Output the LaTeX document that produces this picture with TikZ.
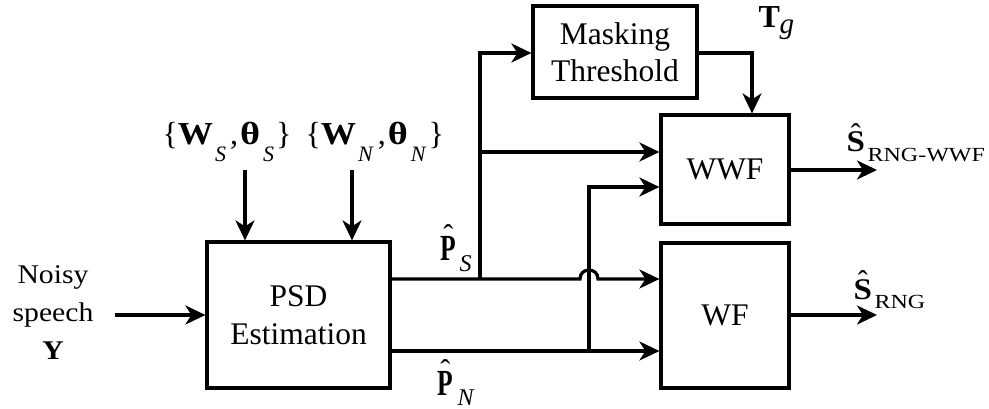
\documentclass[tikz,border=0pt]{standalone}
\usepackage{graphicx}
\usepackage{fontspec}
\setmainfont{Liberation Serif}
\usetikzlibrary{arrows.meta}
% lowered italic subscript: #1 = drop, #2 = size, #3 = text
\newcommand{\lowsub}[3]{\raisebox{-#1}{\fontsize{#2}{#2}\selectfont\textit{#3}}}
\newcommand{\wtheta}[1]{\{\scalebox{1.1}[1]{\textbf{W}}\kern2pt\lowsub{17pt}{22}{#1}\kern4pt,\kern2pt\scalebox{1.2}[1]{\textbf{θ}}\kern3pt\lowsub{17pt}{22}{#1}\kern2pt\}}
\begin{document}
\begin{tikzpicture}[x=1pt,y=-1pt,
  line width=3.2pt,
  font=\fontsize{31.5}{37.5}\selectfont,
  box/.style={draw, line width=3.2pt, inner sep=0pt, align=center},
  lbl/.style={inner sep=0pt, align=center},
  mlbl/.style={inner sep=0pt, anchor=base west, font=\fontsize{32}{32}\selectfont},
  hatlbl/.style={inner sep=0pt, anchor=north, font=\fontsize{30}{30}\selectfont},
  sublbl/.style={inner sep=0pt, anchor=base west, font=\fontsize{24}{24}\selectfont\itshape},
  rsub/.style={inner sep=0pt, anchor=base west, font=\fontsize{20}{20}\selectfont},
  arr/.style={-{Stealth[length=20pt,width=19pt,inset=6pt]}}]
\useasboundingbox (0,0) rectangle (989,409);
% blocks
\node[box, minimum width=183pt, minimum height=146pt] (psd) at (298.5,315) {PSD\\Estimation};
\node[box, minimum width=164pt, minimum height=92pt] (mask) at (615,52) {Masking\\Threshold};
\node[box, minimum width=128pt, minimum height=109pt] (wwf) at (725,169.5) {WWF};
\node[box, minimum width=128pt, minimum height=145pt] (wf) at (725,315.5) {WF};
% input label
\node[lbl, font=\fontsize{27}{38}\selectfont] (noisy) at (53,313) {\scalebox{1.1}[1]{Noisy}\\\scalebox{1.1}[1]{speech}\\\scalebox{1.1}[1]{\textbf{Y}}};
% parameter labels
\node[mlbl] (ws) at (161,145) {\wtheta{S}};
\node[mlbl] (wn) at (304,145) {\wtheta{N}};
% P-hat S
\node[mlbl] (psP) at (439,260) {\scalebox{0.8}[1.15]{\textbf{P}}};
\node[hatlbl] (psH) at ([yshift=11pt]psP.north) {ˆ};
\node[sublbl] (psS) at (458,272) {S};
% P-hat N
\node[mlbl] (pnP) at (436,395) {\scalebox{0.8}[1.15]{\textbf{P}}};
\node[hatlbl] (pnH) at ([yshift=11pt]pnP.north) {ˆ};
\node[sublbl] (pnN) at (456,405) {N};
% T_g
\node[mlbl] (tT) at (757,28) {\textbf{T}};
\node[sublbl, font=\fontsize{29}{29}\selectfont\itshape] (tg) at (778,34) {g};
% S-hat outputs
\node[mlbl, font=\fontsize{30}{30}\selectfont] (s1S) at (845,152) {\scalebox{1.1}[1]{\textbf{S}}};
\node[hatlbl] (s1H) at ([yshift=9pt]s1S.north) {ˆ};
\node[rsub] (s1sub) at (866,162) {\scalebox{1.2}[1]{RNG-WWF}};
\node[mlbl, font=\fontsize{30}{30}\selectfont] (s2S) at (852,299) {\scalebox{1.1}[1]{\textbf{S}}};
\node[hatlbl] (s2H) at ([yshift=9pt]s2S.north) {ˆ};
\node[rsub] (s2sub) at (873,308) {\scalebox{1.2}[1]{RNG}};
% coordinates
\coordinate (in) at (115,315);
\coordinate (a1) at (245,170);
\coordinate (a2) at (352,170);
\coordinate (psout) at (psd.east |- 0,279);
\coordinate (pnout) at (psd.east |- 0,351);
\coordinate (jS) at (480,279);
\coordinate (jS2) at (480,152);
\coordinate (jSt) at (480,53);
\coordinate (hopa) at (580,279);
\coordinate (hopb) at (598,279);
\coordinate (jN) at (589,351);
\coordinate (jNt) at (589,187);
\coordinate (mk) at (752,53);
\coordinate (o1) at (877,170);
\coordinate (o2) at (877,315);
% connectors
\draw[arr] (in) -- (psd.west);
\draw[arr] (a1) -- (a1 |- psd.north);
\draw[arr] (a2) -- (a2 |- psd.north);
\draw[arr] (psout) -- (hopa) .. controls (580,267) and (598,267) .. (hopb) -- (wf.west |- hopb);
\draw[arr] (jS) -- (jSt) -- (mask.west |- jSt);
\draw[arr] (jS2) -- (wwf.west |- jS2);
\draw[arr] (mask.east |- mk) -- (mk) -- (mk |- wwf.north);
\draw[arr] (pnout) -- (wf.west |- pnout);
\draw[arr] (jN) -- (jNt) -- (wwf.west |- jNt);
\draw[arr] (wwf.east |- o1) -- (o1);
\draw[arr] (wf.east |- o2) -- (o2);
\end{tikzpicture}
\end{document}
